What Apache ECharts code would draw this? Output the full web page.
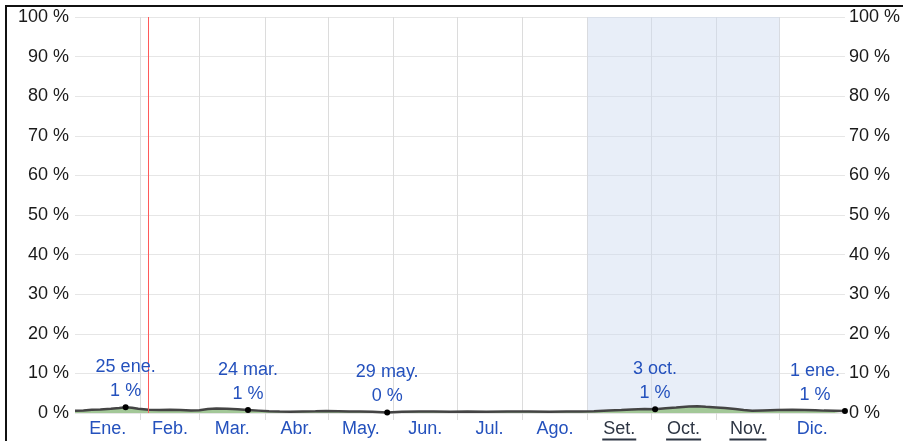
<!DOCTYPE html>
<html style="height: 100%">
<head>
<meta charset="utf-8">
<title>Probabilidad</title>
<script type="text/javascript" src="https://cdn.jsdelivr.net/npm/echarts@6/dist/echarts.min.js"></script>
</head>
<body style="height: 100%; margin: 0; background: #fff">
<div id="target" style="width: 903px; height: 441px"></div>
<div style="position: absolute; left: 5px; top: 5px; width: 898px; height: 436px; border-left: 2px solid #111; border-top: 2px solid #111; pointer-events: none"></div>
<script type="text/javascript">

// day of year (0..365) and percent
const days = [0, 4, 8, 12, 17, 21, 24, 27, 30, 35, 40, 45, 50, 55, 59, 63, 67, 72, 77, 82,
    87, 92, 97, 102, 108, 114, 119, 125, 130, 135, 141, 148, 155, 163, 170, 178, 186, 195,
    205, 215, 225, 233, 240, 246, 253, 259, 264, 270, 275, 280, 285, 291, 295, 299, 304,
    308, 313, 317, 321, 326, 333, 340, 346, 351, 355, 360, 365];
const values = [0.55, 0.65, 0.8, 0.9, 1.05, 1.25, 1.45, 1.35, 1.1, 0.8, 0.75, 0.8, 0.75, 0.65, 0.7, 1.0, 1.15, 1.1, 0.95, 0.75,
    0.6, 0.45, 0.35, 0.3, 0.4, 0.45, 0.5, 0.45, 0.4, 0.4, 0.3, 0.15, 0.3, 0.35, 0.35, 0.3, 0.35, 0.3,
    0.35, 0.35, 0.3, 0.35, 0.35, 0.45, 0.65, 0.75, 0.9, 1.0, 0.95, 1.2, 1.4, 1.65, 1.7, 1.55, 1.4,
    1.25, 1.0, 0.75, 0.55, 0.65, 0.75, 0.8, 0.75, 0.7, 0.6, 0.55, 0.5];

// marked points
const pointDays = [24, 82, 148, 275, 365];
const pointValues = [1.45, 0.75, 0.15, 0.95, 0.5];
const pointDates = ['25 ene.', '24 mar.', '29 may.', '3 oct.', '1 ene.'];
const pointPcts = ['1 %', '1 %', '0 %', '1 %', '1 %'];

const monthNames = ['Ene.', 'Feb.', 'Mar.', 'Abr.', 'May.', 'Jun.', 'Jul.', 'Ago.', 'Set.', 'Oct.', 'Nov.', 'Dic.'];
const monthStarts = [0, 31, 59, 90, 120, 151, 181, 212, 243, 273, 304, 334, 365];
const underlined = ['Set.', 'Oct.', 'Nov.'];

const seasonStart = 243;
const seasonEnd = 334;
const today = 34.5;

const monthMids = monthNames.map((m, i) => (monthStarts[i] + monthStarts[i + 1]) / 2);
const innerStarts = monthStarts.slice(1, 12);

const blue = '#2451bd';
const dark = '#2e3644';
const font = 'Liberation Sans, Arial, sans-serif';

let chart = echarts.init(document.getElementById('target'));

let option = {
    animation: false,
    grid: {
        left: 75,
        right: 55,
        top: 17,
        bottom: 27,
    },
    xAxis: {
        type: 'value',
        min: 0,
        max: 365,
        axisLine: { show: false },
        axisTick: {
            show: true,
            customValues: innerStarts,
            length: 7,
            lineStyle: { color: '#dcdcdc' },
        },
        splitLine: {
            show: true,
            lineStyle: { color: '#dcdcdc', width: 1 },
        },
        axisLabel: {
            customValues: monthMids,
            margin: 8,
            fontFamily: font,
            fontSize: 18,
            color: blue,
            lineHeight: 17,
            formatter: v => {
                let i = monthMids.indexOf(v);
                let name = monthNames[i];
                if (underlined.indexOf(name) >= 0)
                {
                    return '{d|' + name + '}\n{u' + underlined.indexOf(name) + '| }';
                }
                return name;
            },
            rich: {
                d: { color: dark, fontFamily: font, fontSize: 18, lineHeight: 17 },
                u0: { width: 34, height: 2, lineHeight: 3, backgroundColor: dark, fontSize: 1 },
                u1: { width: 35, height: 2, lineHeight: 3, backgroundColor: dark, fontSize: 1 },
                u2: { width: 37, height: 2, lineHeight: 3, backgroundColor: dark, fontSize: 1 },
            },
        },
    },
    yAxis: [
        {
            type: 'value',
            position: 'left',
            min: 0,
            max: 100,
            interval: 10,
            axisLine: { show: false },
            axisTick: { show: false },
            splitLine: { show: true, lineStyle: { color: '#e6e6e6' } },
            axisLabel: {
                margin: 6,
                fontFamily: font,
                fontSize: 18,
                color: '#1a1a1a',
                formatter: v => v + ' %',
            },
        },
        {
            type: 'value',
            position: 'right',
            min: 0,
            max: 100,
            interval: 10,
            axisLine: { show: false },
            axisTick: { show: false },
            splitLine: { show: false },
            axisLabel: {
                margin: 4,
                fontFamily: font,
                fontSize: 18,
                color: '#1a1a1a',
                formatter: v => v + ' %',
            },
        },
    ],
    series: [
        {
            name: 'prob',
            type: 'line',
            data: days.map((d, i) => [d, values[i]]),
            symbol: 'none',
            lineStyle: { color: '#444', width: 2.5 },
            areaStyle: { color: '#a3c898', opacity: 1 },
            z: 3,
            markArea: {
                silent: true,
                itemStyle: { color: 'rgba(204,217,239,0.45)' },
                data: [[{ xAxis: seasonStart }, { xAxis: seasonEnd }]],
            },
            markLine: {
                silent: true,
                symbol: 'none',
                label: { show: false },
                lineStyle: { color: '#ff5a5a', width: 1, type: 'solid' },
                data: [{ xAxis: today }],
            },
        },
        {
            name: 'points',
            type: 'scatter',
            data: pointDays.map((d, i) => [d, pointValues[i]]),
            symbolSize: 6,
            itemStyle: { color: '#000', opacity: 1 },
            z: 5,
            label: {
                show: true,
                position: 'top',
                distance: 1,
                fontFamily: font,
                fontSize: 18,
                lineHeight: 24,
                color: blue,
                opacity: 1,
                formatter: p => pointDates[p.dataIndex] + '\n' + pointPcts[p.dataIndex],
            },
            labelLayout: p => (p.dataIndex === pointDays.length - 1 ? { dx: -30 } : {}),
        },
    ],
};

chart.setOption(option);

</script>
</body>
</html>
